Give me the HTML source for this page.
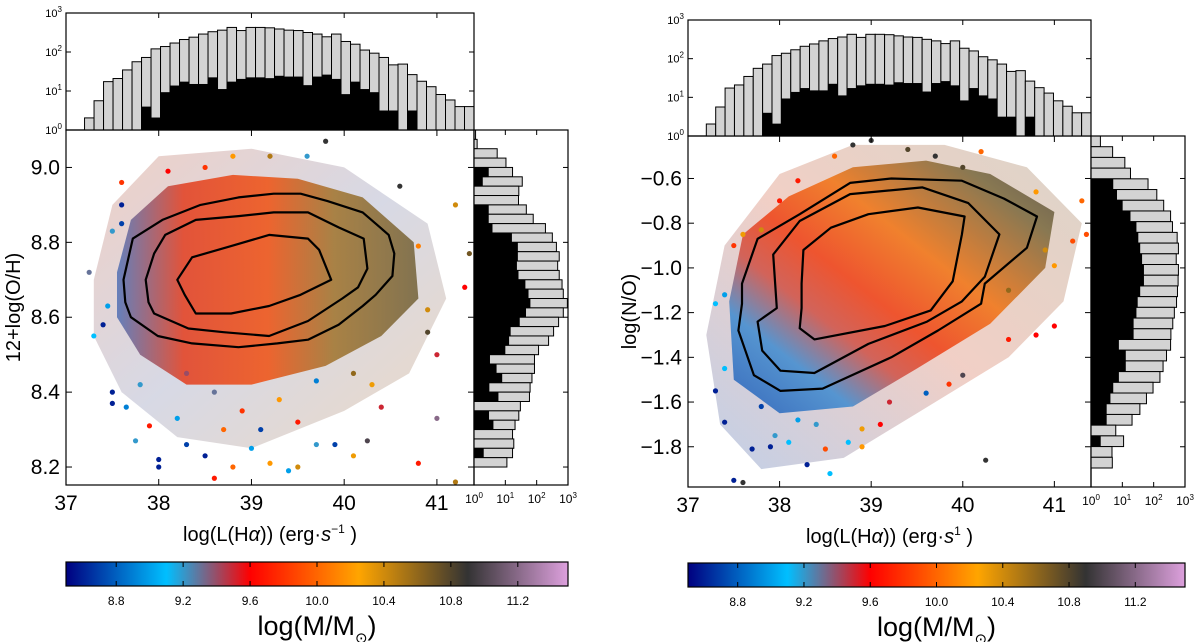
<!DOCTYPE html>
<html><head><meta charset="utf-8"><style>
html,body{margin:0;padding:0;background:#fff}
svg{display:block;font-family:"Liberation Sans","DejaVu Sans",sans-serif}
</style></head><body>
<svg id="fig" width="1200" height="642" viewBox="0 0 1200 642" xmlns="http://www.w3.org/2000/svg">
<defs>
<linearGradient id="cbar" x1="0" x2="1" y1="0" y2="0">
<stop offset="0" stop-color="#000080"/><stop offset="0.2" stop-color="#00bfff"/><stop offset="0.367" stop-color="#ff0000"/><stop offset="0.583" stop-color="#ffa500"/><stop offset="0.8" stop-color="#333333"/><stop offset="1" stop-color="#dda0dd"/>
</linearGradient>
<linearGradient id="coreL" x1="0" x2="1" y1="0" y2="0">
<stop offset="0" stop-color="#5a78b8"/><stop offset="0.22" stop-color="#e2482c"/><stop offset="0.5" stop-color="#ee5a20"/><stop offset="0.72" stop-color="#a47a38"/><stop offset="1" stop-color="#7a6a44"/>
</linearGradient>
<linearGradient id="haloL" x1="0" x2="1" y1="0" y2="1">
<stop offset="0" stop-color="#c86040"/><stop offset="0.5" stop-color="#7a80a8"/><stop offset="1" stop-color="#c08040"/>
</linearGradient>
<linearGradient id="coreR" x1="0" x2="1" y1="1" y2="0">
<stop offset="0" stop-color="#2a60b8"/><stop offset="0.2" stop-color="#4a90d0"/><stop offset="0.33" stop-color="#d05a50"/><stop offset="0.45" stop-color="#ee4a22"/><stop offset="0.62" stop-color="#f07a20"/><stop offset="0.85" stop-color="#807048"/><stop offset="1" stop-color="#5a5048"/>
</linearGradient>
<linearGradient id="haloR" x1="0" x2="1" y1="1" y2="0">
<stop offset="0" stop-color="#3060b0"/><stop offset="0.5" stop-color="#d06040"/><stop offset="1" stop-color="#8a7048"/>
</linearGradient>
</defs>
</svg>
<script>
// ---------- data ----------
const histXStart = 37.2, histXEnd = 41.4;
const histTopGray = [0.31,0.75,1.24,1.32,1.54,1.75,1.86,2.08,2.14,2.23,2.32,2.38,2.46,2.52,2.56,2.63,2.55,2.63,2.63,2.62,2.59,2.56,2.55,2.5,2.46,2.39,2.46,2.27,2.2,2.05,1.97,1.86,1.67,1.69,1.42,1.25,1.11,0.91,0.77,0.6,0.6];
const histTopBlack = [0,0,0,0,0,0,0.6,0.32,0.97,1.14,1.24,1.18,1.18,1.35,1.05,1.24,1.31,1.35,1.35,1.33,1.39,1.37,1.37,1.15,1.37,1.42,1.31,0.92,1.24,1.05,0.97,0.5,0.5,0,0.5,0,0,0,0,0,0];
const ohBinTop = 9.1, ohBinBottom = 8.2;
const ohGray = [0.05,0.1,0.74,1.02,1.23,1.54,1.43,1.42,1.67,1.89,2.28,2.5,2.63,2.72,2.67,2.72,2.81,2.85,2.98,2.85,2.7,2.54,2.38,2.06,1.93,1.93,1.85,1.79,1.77,1.48,1.43,1.31,1.23,1.27,1.23,1.05];
const ohBlack = [0,0,0,0,0.47,0.28,0,0,0.47,0.47,0.59,1.21,1.4,1.4,1.37,1.42,1.64,1.74,1.8,1.66,1.46,1.17,1.12,1.0,0.51,0.72,0.9,0.49,0.78,0,0.48,0.62,0,0,0.31,0];
const noBinTop = -0.41, noBinBottom = -1.895;
const noGray = [0.3,0.69,1.08,1.26,1.82,2.1,2.32,2.54,2.6,2.75,2.79,2.72,2.79,2.78,2.76,2.73,2.66,2.61,2.55,2.54,2.41,2.3,2.2,1.98,1.77,1.56,1.31,0.79,1.04,0.67,0.68];
const noBlack = [0,0,0,0,0.71,0.83,1.01,1.26,1.45,1.51,1.57,1.63,1.69,1.69,1.57,1.49,1.45,1.36,1.36,0.89,1.11,1.11,0.89,0.71,0.62,0.5,0.5,0,0.31,0,0];
const ohOuter = [[37.62,8.70],[37.72,8.81],[38.04,8.86],[38.45,8.90],[38.86,8.92],[39.24,8.93],[39.53,8.93],[39.82,8.91],[40.20,8.88],[40.48,8.82],[40.54,8.77],[40.52,8.71],[40.34,8.66],[40.20,8.63],[39.94,8.58],[39.61,8.54],[39.28,8.53],[38.86,8.52],[38.36,8.53],[37.99,8.55],[37.70,8.60],[37.64,8.64]];
const ohMiddle = [[37.86,8.70],[37.95,8.77],[38.07,8.82],[38.40,8.86],[38.86,8.87],[39.24,8.88],[39.61,8.88],[39.94,8.84],[40.21,8.81],[40.25,8.73],[40.15,8.68],[39.98,8.65],[39.61,8.59],[39.19,8.55],[38.70,8.56],[38.32,8.57],[37.95,8.61],[37.89,8.64]];
const ohInner = [[38.20,8.70],[38.36,8.76],[38.78,8.79],[39.19,8.82],[39.61,8.81],[39.73,8.78],[39.86,8.70],[39.53,8.66],[39.19,8.63],[38.78,8.61],[38.40,8.61],[38.28,8.66]];
const noOuter = [[37.59,-1.07],[37.76,-0.87],[38.22,-0.76],[38.77,-0.62],[39.22,-0.60],[39.99,-0.61],[40.45,-0.69],[40.81,-0.77],[40.70,-0.91],[40.24,-1.07],[40.20,-1.16],[39.73,-1.28],[39.22,-1.40],[38.47,-1.54],[38.01,-1.55],[37.72,-1.48],[37.55,-1.28],[37.59,-1.16]];
const noMiddle = [[37.95,-1.06],[37.93,-0.94],[38.22,-0.79],[38.77,-0.67],[39.56,-0.64],[40.06,-0.71],[40.40,-0.85],[40.24,-1.04],[39.99,-1.15],[39.61,-1.24],[38.97,-1.34],[38.38,-1.47],[38.01,-1.46],[37.81,-1.37],[37.76,-1.24],[37.97,-1.18]];
const noInner = [[38.24,-1.07],[38.26,-0.92],[38.56,-0.82],[38.97,-0.76],[39.51,-0.73],[40.02,-0.77],[39.99,-0.85],[39.89,-1.06],[39.65,-1.19],[39.15,-1.26],[38.38,-1.32],[38.22,-1.27],[38.24,-1.18]];
const ohCore = [[37.55,8.72],[37.7,8.86],[38.1,8.95],[38.8,8.98],[39.5,8.97],[40.2,8.92],[40.75,8.80],[40.8,8.65],[40.4,8.55],[39.8,8.47],[39.0,8.42],[38.3,8.42],[37.8,8.5],[37.55,8.6]];
const ohHalo = [[37.3,8.7],[37.5,8.9],[38.0,9.03],[39.0,9.05],[40.0,9.0],[40.9,8.85],[41.1,8.65],[40.7,8.45],[40.0,8.35],[39.0,8.25],[38.2,8.28],[37.6,8.4],[37.3,8.55]];
const noCore = [[37.45,-1.15],[37.6,-0.85],[38.1,-0.68],[38.8,-0.55],[39.6,-0.52],[40.3,-0.58],[41.0,-0.75],[40.9,-1.0],[40.3,-1.25],[39.5,-1.45],[38.8,-1.62],[38.0,-1.65],[37.5,-1.5]];
const noHalo = [[37.2,-1.3],[37.4,-0.9],[38.0,-0.58],[38.8,-0.45],[39.8,-0.45],[40.7,-0.55],[41.3,-0.8],[41.1,-1.15],[40.5,-1.4],[39.5,-1.65],[38.7,-1.85],[37.8,-1.9],[37.35,-1.7]];
const ohPoints = [[37.4,8.58,8.6],[37.45,8.63,9.0],[37.5,8.4,8.6],[37.5,8.37,8.6],[37.65,8.36,8.9],[37.8,8.42,9.2],[37.75,8.27,9.2],[38.0,8.22,8.6],[38.0,8.2,8.6],[37.9,8.31,9.7],[38.2,8.33,9.0],[38.3,8.26,8.7],[38.5,8.23,8.6],[38.6,8.17,9.7],[38.8,8.2,10.0],[39.0,8.25,9.0],[39.2,8.21,10.2],[39.4,8.19,9.0],[39.5,8.2,10.4],[39.7,8.26,9.2],[39.9,8.26,8.7],[40.1,8.23,10.3],[40.25,8.27,11.0],[40.4,8.36,9.5],[40.3,8.42,10.3],[40.8,8.21,9.7],[41.2,8.16,10.5],[41.0,8.5,9.5],[40.9,8.56,10.8],[41.0,8.33,11.2],[40.9,8.62,10.4],[41.3,8.68,9.6],[41.35,8.77,10.7],[41.2,8.9,10.4],[40.6,8.95,10.9],[40.8,8.79,10.1],[39.6,9.03,9.2],[39.2,9.03,10.5],[38.8,9.03,10.2],[38.5,9.0,9.8],[38.1,8.99,9.6],[37.6,8.96,9.8],[37.6,8.9,8.6],[37.5,8.83,9.2],[37.6,8.85,8.7],[37.25,8.72,9.3],[37.3,8.55,9.1],[38.3,8.45,9.4],[38.6,8.4,9.3],[38.9,8.35,9.8],[39.3,8.38,10.2],[39.7,8.43,8.9],[40.1,8.45,10.6],[39.5,8.32,9.7],[38.7,8.3,10.0],[39.1,8.3,8.7],[39.8,9.07,10.9]];
const noPoints = [[37.3,-1.55,8.6],[37.4,-1.45,9.1],[37.5,-1.95,8.6],[37.6,-1.96,10.9],[37.4,-1.69,8.6],[37.7,-1.81,8.6],[37.9,-1.8,8.6],[37.95,-1.75,9.2],[38.1,-1.78,9.1],[38.3,-1.88,8.6],[38.55,-1.92,9.1],[38.5,-1.81,9.9],[38.75,-1.78,9.1],[38.9,-1.8,10.2],[38.9,-1.72,10.3],[39.1,-1.7,9.6],[39.2,-1.6,9.5],[39.6,-1.56,8.8],[39.85,-1.52,9.8],[40.0,-1.48,11.0],[40.25,-1.86,10.9],[40.5,-1.32,9.7],[40.8,-1.3,9.6],[41.0,-1.26,9.6],[40.5,-1.1,10.6],[41.0,-0.99,10.2],[40.9,-0.92,10.4],[41.2,-0.88,9.9],[41.35,-0.85,9.9],[41.3,-0.7,10.0],[40.8,-0.66,10.2],[40.2,-0.48,10.0],[39.4,-0.47,10.8],[39.0,-0.43,10.9],[38.8,-0.45,10.9],[38.6,-0.5,10.0],[38.2,-0.61,9.7],[38.0,-0.7,9.7],[37.8,-0.83,10.4],[37.6,-0.85,10.3],[37.5,-0.9,9.8],[37.4,-1.12,9.0],[37.3,-1.16,9.1],[39.7,-0.5,10.9],[40.0,-0.55,10.8],[37.8,-1.62,8.7],[38.2,-1.68,9.0],[38.4,-1.7,9.2]];
const xTicks = [37,38,39,40,41];
const ohTicks = [8.2,8.4,8.6,8.8,9.0];
const ohTickLabels = ["8.2","8.4","8.6","8.8","9.0"];
const noTicks = [-1.8,-1.6,-1.4,-1.2,-1.0,-0.8,-0.6];
const noTickLabels = ["\u22121.8","\u22121.6","\u22121.4","\u22121.2","\u22121.0","\u22120.8","\u22120.6"];
const cbTicks = [8.8,9.2,9.6,10.0,10.4,10.8,11.2];
const cbTickLabels = ["8.8","9.2","9.6","10.0","10.4","10.8","11.2"];
const massMin = 8.5, massMax = 11.5;
const cmapStops = [[8.5,[0,0,128]],[9.1,[0,191,255]],[9.6,[255,0,0]],[10.25,[255,165,0]],[10.9,[51,51,51]],[11.5,[221,160,221]]];

// ---------- helpers ----------
const NS = "http://www.w3.org/2000/svg";
const svg = document.getElementById("fig");
function el(tag, attrs, parent) {
  const e = document.createElementNS(NS, tag);
  for (const k in attrs) e.setAttribute(k, attrs[k]);
  (parent || svg).appendChild(e);
  return e;
}
function cmap(m) {
  for (let i = 0; i < cmapStops.length - 1; i++) {
    const a = cmapStops[i], b = cmapStops[i + 1];
    if (m <= b[0] || i === cmapStops.length - 2) {
      const t = Math.max(0, Math.min(1, (m - a[0]) / (b[0] - a[0])));
      const c = a[1].map((v, j) => Math.round(v + (b[1][j] - v) * t));
      return "rgb(" + c.join(",") + ")";
    }
  }
}

function panel(P) {
  const g = el("g", {});
  
  
  const sx = v => P.L + (v - P.xMin) / (P.xMax - P.xMin) * (P.R - P.L);
  const sy = v => P.B - (v - P.yMin) / (P.yMax - P.yMin) * (P.B - P.T);
  const hy = d => P.T - d / 3 * (P.T - P.HT);
  const hx = d => P.R + d / 3 * (P.HR - P.R);
  const clipId = P.name + "-clip";
  const cp = el("clipPath", {id: clipId}, g);
  el("rect", {x: P.L, y: P.T, width: P.R - P.L, height: P.B - P.T}, cp);
  const pts = arr => arr.map(p => sx(p[0]).toFixed(1) + "," + sy(p[1]).toFixed(1)).join(" ");
  const halo = el("polygon", {points: pts(P.halo), fill: P.haloFill, opacity: 0.3, "clip-path": "url(#" + clipId + ")"}, g);
  
  
  const core = el("polygon", {points: pts(P.core), fill: P.coreFill, opacity: 0.92, "clip-path": "url(#" + clipId + ")"}, g);
  
  
  for (const p of P.points) {
    const c = el("circle", {cx: sx(p[0]), cy: sy(p[1]), r: 2.6, fill: cmap(p[2]), "clip-path": "url(#" + clipId + ")"}, g);
    
    
  }
  [P.c1, P.c2, P.c3].forEach((c, i) => {
    const pl = el("polygon", {points: pts(c), fill: "none", stroke: "#000", "stroke-width": 2.2, "stroke-linejoin": "round"}, g);
    
    
  });
  const fr = el("rect", {x: P.L, y: P.T, width: P.R - P.L, height: P.B - P.T, fill: "none", stroke: "#000", "stroke-width": 1.2}, g);
  
  
  xTicks.forEach(t => {
    const x = sx(t);
    el("line", {x1: x, x2: x, y1: P.B, y2: P.B - 6, stroke: "#000"}, g);
    el("line", {x1: x, x2: x, y1: P.T, y2: P.T + 6, stroke: "#000"}, g);
    const tx = el("text", {x: x, y: P.B + 25, "font-size": 21, "text-anchor": "middle"}, g);
    tx.textContent = t;
    
    
  });
  P.yTicks.forEach((t, i) => {
    const y = sy(t);
    el("line", {x1: P.L, x2: P.L + 6, y1: y, y2: y, stroke: "#000"}, g);
    el("line", {x1: P.R, x2: P.R - 6, y1: y, y2: y, stroke: "#000"}, g);
    const tx = el("text", {x: P.L - 6, y: y + 7, "font-size": 21, "text-anchor": "end"}, g);
    tx.textContent = P.yLabels[i];
    
    
  });
  const xt = el("text", {x: (P.L + P.R) / 2, y: P.B + 56, "font-size": 20, "text-anchor": "middle"}, g);
  xt.innerHTML = "log(L(H<tspan font-style='italic'>\u03b1</tspan>)) (erg\u00b7<tspan font-style='italic'>s</tspan><tspan font-size='12' dy='-8'>" + P.expo + "</tspan><tspan dy='8'> )</tspan>";
  
  
  const yt = el("text", {x: 0, y: 0, "font-size": 20, "text-anchor": "middle", transform: "translate(" + P.yTitleX + "," + ((P.T + P.B) / 2) + ") rotate(-90)"}, g);
  yt.textContent = P.yTitle;
  
  

  const nb = histTopGray.length, bw = (sx(histXEnd) - sx(histXStart)) / nb;
  histTopGray.forEach((v, i) => {
    const x = sx(histXStart) + i * bw;
    if (v > 0) {
      const r = el("rect", {x: x, y: hy(v), width: bw, height: P.T - hy(v), fill: "#d3d3d3", stroke: "#000", "stroke-width": 1}, g);
      
      
    }
  });
  histTopBlack.forEach((v, i) => {
    const x = sx(histXStart) + i * bw;
    if (v > 0) {
      const r = el("rect", {x: x, y: hy(v), width: bw + 0.3, height: P.T - hy(v), fill: "#000"}, g);
      
      
    }
  });
  const tf = el("rect", {x: P.L, y: P.HT, width: P.R - P.L, height: P.T - P.HT, fill: "none", stroke: "#000", "stroke-width": 1.2}, g);
  
  
  [0, 1, 2, 3].forEach(d => {
    const y = hy(d);
    el("line", {x1: P.L, x2: P.L + 5, y1: y, y2: y, stroke: "#000"}, g);
    el("line", {x1: P.R, x2: P.R - 5, y1: y, y2: y, stroke: "#000"}, g);
    const tx = el("text", {x: P.L - 4, y: y + 4, "font-size": 11, "text-anchor": "end"}, g);
    tx.innerHTML = "10<tspan font-size='8' dy='-5'>" + d + "</tspan>";
    
    
  });
  xTicks.forEach(t => el("line", {x1: sx(t), x2: sx(t), y1: P.HT, y2: P.HT + 5, stroke: "#000"}, g));

  const nr = P.rGray.length, bh = (sy(P.rBottom) - sy(P.rTop)) / nr;
  P.rGray.forEach((v, i) => {
    const y = sy(P.rTop) + i * bh;
    const r = el("rect", {x: P.R, y: y, width: hx(v) - P.R, height: bh, fill: "#d3d3d3", stroke: "#000", "stroke-width": 1}, g);
    
    
  });
  P.rBlack.forEach((v, i) => {
    if (v <= 0) return;
    const y = sy(P.rTop) + i * bh;
    const r = el("rect", {x: P.R, y: y, width: hx(v) - P.R, height: bh + 0.3, fill: "#000"}, g);
    
    
  });
  const rf = el("rect", {x: P.R, y: P.T, width: P.HR - P.R, height: P.B - P.T, fill: "none", stroke: "#000", "stroke-width": 1.2}, g);
  
  
  [0, 1, 2, 3].forEach(d => {
    const x = hx(d);
    el("line", {x1: x, x2: x, y1: P.B, y2: P.B - 5, stroke: "#000"}, g);
    el("line", {x1: x, x2: x, y1: P.T, y2: P.T + 5, stroke: "#000"}, g);
    const tx = el("text", {x: x, y: P.B + 18, "font-size": 12, "text-anchor": "middle"}, g);
    tx.innerHTML = "10<tspan font-size='8' dy='-5'>" + d + "</tspan>";
    
    
  });
  P.yTicks.forEach(t => el("line", {x1: P.HR, x2: P.HR - 5, y1: sy(t), y2: sy(t), stroke: "#000"}, g));

  const cb = el("rect", {x: P.L, y: P.CT, width: P.HR - P.L, height: 24, fill: "url(#cbar)", stroke: "#000", "stroke-width": 1.2}, g);
  
  
  const cx = m => P.L + (m - massMin) / (massMax - massMin) * (P.HR - P.L);
  cbTicks.forEach((t, i) => {
    el("line", {x1: cx(t), x2: cx(t), y1: P.CT + 24, y2: P.CT + 19, stroke: "#000"}, g);
    el("line", {x1: cx(t), x2: cx(t), y1: P.CT, y2: P.CT + 5, stroke: "#000"}, g);
    const tx = el("text", {x: cx(t), y: P.CT + 43, "font-size": 12, "text-anchor": "middle"}, g);
    tx.textContent = cbTickLabels[i];
    
    
  });
  const ct = el("text", {x: (P.L + P.HR) / 2, y: P.CT + 73, "font-size": 27, "text-anchor": "middle"}, g);
  ct.innerHTML = "log(M/M<tspan font-size='15' dy='8'>\u2299</tspan><tspan dy='-8'>)</tspan>";
  
  
}

panel({name: "oh-panel", L: 66, R: 474, T: 130, B: 485, HT: 13, HR: 568, CT: 562,
  xMin: 37, xMax: 41.4, yMin: 8.152, yMax: 9.1,
  yTicks: ohTicks, yLabels: ohTickLabels, yTitle: "12+log(O/H)", yTitleX: 20, expo: "\u22121",
  core: ohCore, halo: ohHalo, coreFill: "url(#coreL)", haloFill: "url(#haloL)", points: ohPoints,
  c1: ohOuter, c2: ohMiddle, c3: ohInner,
  rGray: ohGray, rBlack: ohBlack, rTop: ohBinTop, rBottom: ohBinBottom});
panel({name: "no-panel", L: 688, R: 1091, T: 136, B: 487, HT: 20, HR: 1185, CT: 563,
  xMin: 37, xMax: 41.4, yMin: -1.98, yMax: -0.41,
  yTicks: noTicks, yLabels: noTickLabels, yTitle: "log(N/O)", yTitleX: 636, expo: "1",
  core: noCore, halo: noHalo, coreFill: "url(#coreR)", haloFill: "url(#haloR)", points: noPoints,
  c1: noOuter, c2: noMiddle, c3: noInner,
  rGray: noGray, rBlack: noBlack, rTop: noBinTop, rBottom: noBinBottom});
</script>
</body></html>
